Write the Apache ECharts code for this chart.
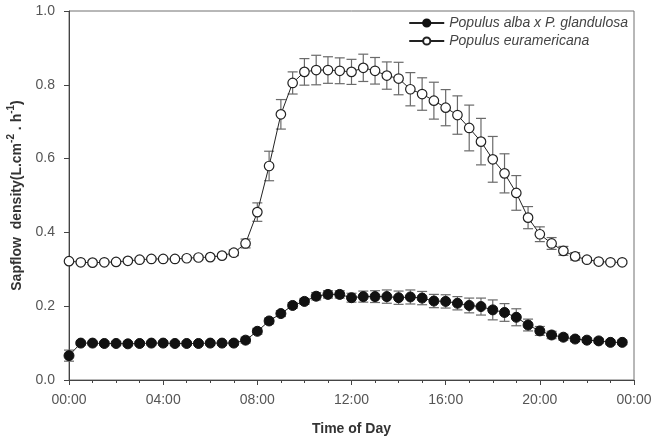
<!DOCTYPE html>
<html>
<head>
<meta charset="utf-8">
<script src="https://cdn.jsdelivr.net/npm/echarts@6/dist/echarts.min.js"></script>
<style>
html, body { margin: 0; padding: 0; background: #fff; }
#charts { width: 662px; height: 436px; }
</style>
</head>
<body>
<div id="charts"></div>
<script>
// half-hourly readings over one day
var times = ['00:00','00:30','01:00','01:30','02:00','02:30','03:00','03:30',
             '04:00','04:30','05:00','05:30','06:00','06:30','07:00','07:30',
             '08:00','08:30','09:00','09:30','10:00','10:30','11:00','11:30',
             '12:00','12:30','13:00','13:30','14:00','14:30','15:00','15:30',
             '16:00','16:30','17:00','17:30','18:00','18:30','19:00','19:30',
             '20:00','20:30','21:00','21:30','22:00','22:30','23:00','23:30'];

var albaMean = [0.066,0.100,0.100,0.099,0.099,0.098,0.099,0.100,
                0.100,0.099,0.099,0.099,0.100,0.100,0.100,0.108,
                0.132,0.160,0.180,0.202,0.213,0.227,0.232,0.232,
                0.223,0.226,0.226,0.226,0.223,0.225,0.222,0.214,
                0.213,0.208,0.202,0.199,0.190,0.183,0.170,0.149,
                0.133,0.122,0.116,0.111,0.108,0.106,0.102,0.102];
var albaErr = [0.015,0.005,0.005,0.005,0.005,0.005,0.005,0.005,
               0.005,0.005,0.005,0.005,0.005,0.005,0.005,0.008,
               0.008,0.008,0.008,0.008,0.008,0.010,0.010,0.010,
               0.012,0.015,0.016,0.018,0.018,0.019,0.018,0.018,
               0.018,0.018,0.020,0.023,0.027,0.024,0.023,0.016,
               0.012,0.010,0.008,0.007,0.006,0.006,0.006,0.006];

var euraMean = [0.322,0.319,0.318,0.319,0.320,0.323,0.326,0.328,
                0.328,0.328,0.330,0.332,0.333,0.337,0.345,0.370,
                0.455,0.580,0.720,0.805,0.835,0.840,0.840,0.838,
                0.835,0.846,0.838,0.825,0.817,0.788,0.775,0.757,
                0.738,0.718,0.683,0.646,0.598,0.560,0.507,0.440,
                0.395,0.370,0.350,0.335,0.326,0.321,0.319,0.319];
var euraErr = [0.004,0.004,0.004,0.004,0.004,0.004,0.004,0.004,
               0.004,0.004,0.004,0.004,0.004,0.004,0.008,0.012,
               0.025,0.040,0.040,0.030,0.036,0.040,0.036,0.035,
               0.034,0.037,0.036,0.037,0.044,0.045,0.044,0.050,
               0.049,0.052,0.062,0.063,0.062,0.053,0.047,0.030,
               0.020,0.016,0.012,0.010,0.006,0.004,0.004,0.004];

var xTicks = ['00:00','04:00','08:00','12:00','16:00','20:00','00:00'];
var names = ['Populus alba x P. glandulosa', 'Populus euramericana'];

function toHour(t) {
    var p = t.split(':');
    return +p[0] + (+p[1]) / 60;
}

function pairs(means) {
    return times.map(function (t, i) { return [toHour(t), means[i]]; });
}

function bars(means, errs) {
    return times.map(function (t, i) {
        return [toHour(t), means[i] - errs[i], means[i] + errs[i]];
    });
}

function drawBar(params, api) {
    var x = api.value(0);
    var lo = api.coord([x, api.value(1)]);
    var hi = api.coord([x, api.value(2)]);
    var w = 5;
    var st = { stroke: '#6a6a6a', lineWidth: 1.2 };
    return {
        type: 'group',
        children: [
            { type: 'line', shape: { x1: lo[0], y1: lo[1], x2: hi[0], y2: hi[1] }, style: st },
            { type: 'line', shape: { x1: lo[0] - w, y1: lo[1], x2: lo[0] + w, y2: lo[1] }, style: st },
            { type: 'line', shape: { x1: hi[0] - w, y1: hi[1], x2: hi[0] + w, y2: hi[1] }, style: st }
        ]
    };
}

var myChart = echarts.init(document.getElementById('charts'));

var option = {
    animation: false,
    textStyle: { fontFamily: 'Liberation Sans, Arial, sans-serif' },
    grid: {
        left: 69, right: 28, top: 11, bottom: 56,
        outerBoundsMode: 'none',
        show: true, borderColor: '#707070', borderWidth: 1
    },
    legend: {
        orient: 'vertical',
        right: 29, top: 11,
        itemWidth: 35, itemHeight: 9, itemGap: 4,
        data: names,
        textStyle: { fontStyle: 'italic', fontSize: 14, color: '#444' }
    },
    xAxis: {
        type: 'value',
        min: 0, max: 24, interval: 4,
        name: 'Time of Day',
        nameLocation: 'middle',
        nameGap: 42,
        nameTextStyle: { fontWeight: 'bold', fontSize: 14, color: '#333' },
        axisLine: { lineStyle: { color: '#444' } },
        axisTick: { inside: false, length: 5, lineStyle: { color: '#444' } },
        minorTick: { show: true, splitNumber: 4, length: 3, lineStyle: { color: '#444' } },
        splitLine: { show: false },
        axisLabel: {
            fontSize: 14, color: '#555', margin: 13,
            formatter: function (v) { return xTicks[Math.round(v / 4)]; }
        }
    },
    yAxis: {
        type: 'value',
        min: 0, max: 1, interval: 0.2,
        name: '{n|Sapflow  density(L.cm}{sup|-2}{n| . h}{sup|-1}{n|)}',
        nameLocation: 'middle',
        nameGap: 42,
        nameTextStyle: {
            fontWeight: 'bold', fontSize: 14, color: '#333',
            rich: {
                n: { fontSize: 14, fontWeight: 'bold', color: '#333', lineHeight: 18, verticalAlign: 'bottom' },
                sup: { fontSize: 10, fontWeight: 'bold', color: '#333', lineHeight: 10, verticalAlign: 'top' }
            }
        },
        axisLine: { show: true, lineStyle: { color: '#444' } },
        axisTick: { show: true, inside: false, length: 5, lineStyle: { color: '#444' } },
        splitLine: { show: false },
        axisLabel: {
            fontSize: 14, color: '#555', margin: 14,
            formatter: function (v) { return v.toFixed(1); }
        }
    },
    series: [
        {
            type: 'custom',
            renderItem: drawBar,
            data: bars(albaMean, albaErr),
            z: 1,
            silent: true
        },
        {
            type: 'custom',
            renderItem: drawBar,
            data: bars(euraMean, euraErr),
            z: 1,
            silent: true
        },
        {
            name: names[0],
            type: 'line',
            data: pairs(albaMean),
            symbol: 'circle',
            symbolSize: 10,
            z: 3,
            lineStyle: { color: '#222', width: 1 },
            itemStyle: { color: '#111', borderColor: '#111', borderWidth: 1 }
        },
        {
            name: names[1],
            type: 'line',
            data: pairs(euraMean),
            symbol: 'circle',
            symbolSize: 9.5,
            z: 3,
            lineStyle: { color: '#222', width: 1 },
            itemStyle: { color: '#fff', borderColor: '#222', borderWidth: 1.2 }
        }
    ]
};

myChart.setOption(option);
</script>
</body>
</html>
